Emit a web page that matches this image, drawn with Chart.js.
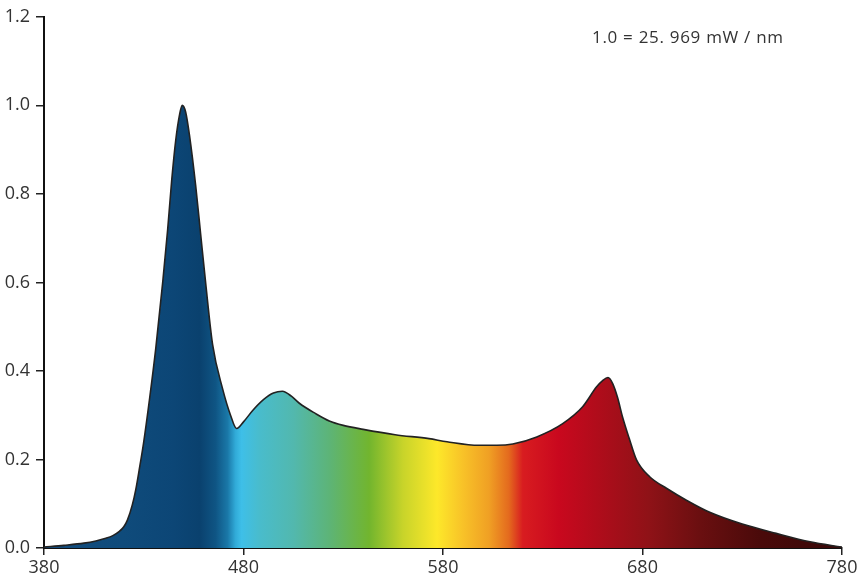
<!DOCTYPE html>
<html>
<head>
<meta charset="utf-8">
<script src="https://cdn.jsdelivr.net/npm/chart.js@4/dist/chart.umd.min.js"></script>
<style>
  html, body { margin: 0; padding: 0; background: #fff; overflow: hidden; }
  #wrap { position: relative; width: 867px; height: 579px; }
</style>
</head>
<body>
<div id="wrap"><canvas id="grafico" width="867" height="579"></canvas></div>
<script>
// spectrum (nm, relative intensity)
const wavelengths = [380, 390, 400, 406, 411, 414.5, 417.6, 420, 421.8, 424.3, 426, 427.7, 430, 433, 436, 439.5, 442, 444, 446, 448, 449.3, 451, 453, 456, 458.5, 461, 464.5, 469.5, 473.5, 476.5, 480, 484.5, 490, 495, 499.5, 504, 508, 516, 523, 530, 540, 556, 573, 582, 598, 607, 615, 627, 640, 650, 657, 660, 662.7, 665, 667.5, 670, 673.6, 677, 683.6, 692, 702, 714, 730, 747, 764, 780];
const intensity = [0.002, 0.006, 0.011, 0.016, 0.022, 0.028, 0.037, 0.048, 0.063, 0.098, 0.132, 0.176, 0.240, 0.340, 0.450, 0.600, 0.720, 0.830, 0.920, 0.980, 1.000, 0.985, 0.930, 0.820, 0.710, 0.600, 0.460, 0.360, 0.300, 0.270, 0.285, 0.310, 0.335, 0.350, 0.354, 0.343, 0.327, 0.304, 0.287, 0.277, 0.268, 0.256, 0.247, 0.240, 0.232, 0.232, 0.235, 0.251, 0.281, 0.319, 0.364, 0.378, 0.385, 0.372, 0.340, 0.296, 0.244, 0.199, 0.161, 0.135, 0.108, 0.080, 0.054, 0.033, 0.014, 0.002];

const xTicks = [380, 480, 580, 680, 780];
const yTicks = [0, 0.2, 0.4, 0.6, 0.8, 1.0, 1.2];
const notaEscala = "1.0 = 25. 969 mW / nm";

// spectral colours for the fill
const stopNm = [380, 420, 445, 458, 466, 472, 476, 479, 488, 505, 523, 543, 560, 577, 590, 603, 613, 620, 638, 683, 709, 739, 780];
const stopCor = ["#124c7e", "#0f4b7b", "#0c4676", "#0a416e", "#0f5584", "#1a78a8", "#31abd8", "#3ebfe8", "#49bccc", "#52b8ae", "#5db477", "#72b52e", "#c8d42a", "#fde82a", "#f8c228", "#f0a024", "#e46a1e", "#d81c20", "#c9081e", "#8f1217", "#6a0f10", "#4a0a0a", "#380808"];

const fonte = { family: "'Open Sans', sans-serif", size: 18 };

function preenchimento(context) {
  const chart = context.chart;
  const { ctx, chartArea, scales } = chart;
  if (!chartArea) return null;
  const x0 = scales.x.getPixelForValue(380);
  const x1 = scales.x.getPixelForValue(780);
  const g = ctx.createLinearGradient(x0, 0, x1, 0);
  stopNm.forEach((nm, i) => g.addColorStop((nm - 380) / 400, stopCor[i]));
  return g;
}

const nota = {
  id: "nota",
  afterDraw(chart) {
    const c = chart.ctx;
    c.save();
    c.font = "17px 'Open Sans', sans-serif";
    c.letterSpacing = "0.7px";
    c.fillStyle = "#333";
    c.textAlign = "left";
    c.textBaseline = "middle";
    c.fillText(notaEscala, 592, 38);
    c.restore();
  }
};

new Chart(document.getElementById("grafico"), {
  type: "line",
  data: {
    datasets: [{
      data: wavelengths.map((w, i) => ({ x: w, y: intensity[i] })),
      borderColor: "#222",
      borderWidth: 1.6,
      backgroundColor: preenchimento,
      fill: "origin",
      pointRadius: 0,
      cubicInterpolationMode: "monotone"
    }]
  },
  options: {
    responsive: false,
    animation: false,
    devicePixelRatio: 1,
    layout: { padding: { top: 8, right: 25, left: 0, bottom: 0 } },
    plugins: { legend: { display: false }, tooltip: { enabled: false } },
    scales: {
      x: {
        type: "linear",
        min: 380,
        max: 780,
        afterBuildTicks: s => { s.ticks = xTicks.map(v => ({ value: v })); },
        afterFit: s => { s.height = 31; },
        ticks: { color: "#333", font: fonte, padding: 2, maxRotation: 0 },
        grid: { drawOnChartArea: false, drawTicks: true, tickLength: 7, color: "#222", lineWidth: 1.5 },
        border: { color: "#111", width: 2 }
      },
      y: {
        min: 0,
        max: 1.2,
        afterBuildTicks: s => { s.ticks = yTicks.map(v => ({ value: v })); },
        afterFit: s => { s.width = 44; },
        ticks: { color: "#333", font: fonte, padding: 6, callback: v => v.toFixed(1) },
        grid: { drawOnChartArea: false, drawTicks: true, tickLength: 8, color: "#222", lineWidth: 1.5 },
        border: { color: "#111", width: 2 }
      }
    }
  },
  plugins: [nota]
});
</script>
</body>
</html>
